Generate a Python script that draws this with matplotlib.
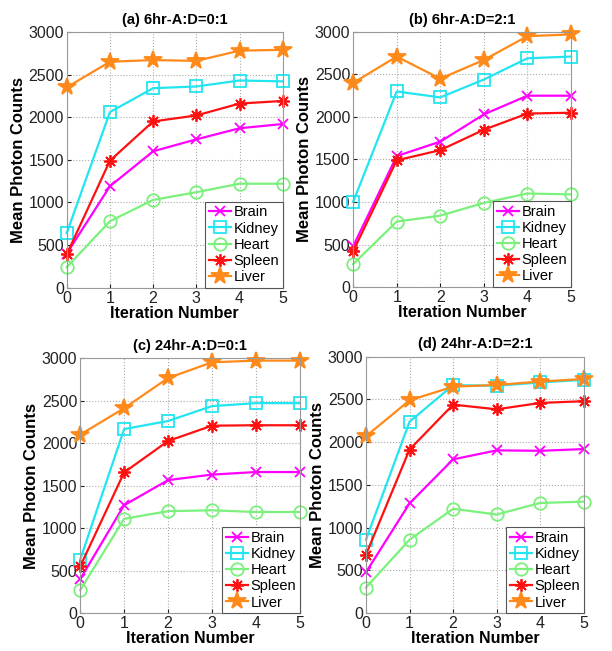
import matplotlib.pyplot as plt
import numpy as np

plt.rcParams['font.family'] = ['Liberation Sans', 'DejaVu Sans']

# dados
iteracoes = [0, 1, 2, 3, 4, 5]
orgaos = ['Brain', 'Kidney', 'Heart', 'Spleen', 'Liver']
titulos = ['(a) 6hr-A:D=0:1', '(b) 6hr-A:D=2:1', '(c) 24hr-A:D=0:1', '(d) 24hr-A:D=2:1']

brain = [
    [400, 1190, 1600, 1740, 1870, 1920],
    [480, 1540, 1710, 2030, 2250, 2250],
    [400, 1270, 1565, 1630, 1660, 1660],
    [480, 1285, 1800, 1905, 1900, 1920],
]
kidney = [
    [640, 2060, 2340, 2360, 2430, 2420],
    [1000, 2300, 2230, 2440, 2690, 2710],
    [630, 2165, 2260, 2435, 2470, 2470],
    [860, 2240, 2668, 2660, 2700, 2730],
]
heart = [
    [240, 780, 1030, 1120, 1220, 1220],
    [270, 770, 840, 990, 1100, 1090],
    [270, 1110, 1200, 1210, 1190, 1190],
    [300, 860, 1222, 1155, 1290, 1305],
]
spleen = [
    [390, 1490, 1950, 2020, 2160, 2190],
    [420, 1490, 1610, 1850, 2040, 2050],
    [550, 1655, 2025, 2205, 2210, 2210],
    [685, 1915, 2440, 2385, 2460, 2480],
]
liver = [
    [2350, 2650, 2670, 2660, 2780, 2790],
    [2400, 2710, 2450, 2670, 2950, 2970],
    [2100, 2410, 2765, 2950, 2970, 2970],
    [2070, 2490, 2650, 2670, 2710, 2740],
]

series = [brain, kidney, heart, spleen, liver]
cores = ['#ff00ff', '#22e5f0', '#7cf07c', '#ff1010', '#ff8a1a']
marcadores = ['x', 's', 'o', (8, 2, 0), '*']
tamanhos = [7, 8, 9, 9, 13]

posicoes = [
    [0.109, 0.558, 0.353, 0.393],
    [0.577, 0.559, 0.356, 0.392],
    [0.131, 0.058, 0.359, 0.392],
    [0.598, 0.058, 0.356, 0.394],
]

fig = plt.figure(figsize=(6.12, 6.51), dpi=100)

for i in range(4):
    ax = fig.add_axes(posicoes[i])
    for j in range(5):
        mfc = cores[j] if marcadores[j] in ((8, 2, 0), '*') else 'none'
        ax.plot(iteracoes, series[j][i], color=cores[j], marker=marcadores[j],
                markersize=tamanhos[j], markerfacecolor=mfc, markeredgecolor=cores[j],
                markeredgewidth=1.3, linewidth=1.6, label=orgaos[j], clip_on=False)
    ax.set_xlim(0, 5)
    ax.set_ylim(0, 3000)
    ax.set_xticks(iteracoes)
    ax.set_yticks(np.arange(0, 3001, 500))
    ax.tick_params(labelsize=11.5, length=3, direction='in', colors='#222222', pad=2)
    ax.grid(True, linestyle=':', color='#aaaaaa', linewidth=0.8)
    for s in ax.spines.values():
        s.set_color('#999999')
    ax.set_title(titulos[i], fontsize=10.5, fontweight='bold', pad=6)
    ax.set_xlabel('Iteration Number', fontsize=11.5, fontweight='bold', labelpad=0)
    ax.set_ylabel('Mean Photon Counts', fontsize=12, fontweight='bold', labelpad=2)
    leg = ax.legend(loc='lower right', fontsize=10.5, borderaxespad=0, fancybox=False,
                    handlelength=1.5, handletextpad=0.2, labelspacing=0.15,
                    borderpad=0.25, framealpha=1)
    leg.get_frame().set_edgecolor('#555555')
    leg.get_frame().set_linewidth(0.8)

plt.savefig('out.png', dpi=100)
